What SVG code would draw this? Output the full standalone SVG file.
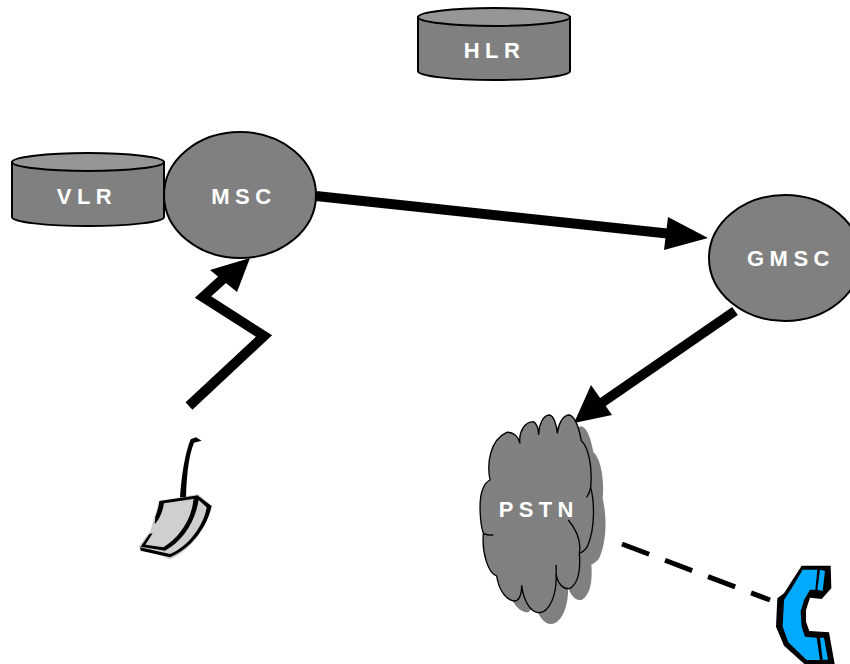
<svg xmlns="http://www.w3.org/2000/svg" width="850" height="664" viewBox="0 0 850 664">
<style>
.shape{fill:#808080;stroke:#000;stroke-width:2}
.top{fill:#969696;stroke:#000;stroke-width:2}
.lbl{font-family:"Liberation Sans",Arial,sans-serif;font-weight:bold;font-size:22px;fill:#fff;text-anchor:middle;letter-spacing:5.5px}
.conn{fill:none;stroke:#000;stroke-width:10;stroke-linejoin:miter}
.head{fill:#000;stroke:none}
</style>
<defs>
<path id="cloud" d="M60 240C50 190 60 120 110 97C130 95 145 110 150 130C145 95 165 65 190 65C200 70 205 85 206 105C205 75 220 45 238 45C252 48 260 75 262 100C265 70 280 45 298 45C318 50 328 90 334 122C355 140 368 200 362 262C372 300 378 380 352 440C345 450 335 458 328 460C332 510 325 550 300 565C280 570 262 550 258 520C262 590 235 640 205 638C180 635 160 600 155 556C155 590 145 605 130 603C100 595 85 560 80 528C55 520 35 460 40 400C30 370 25 300 38 268C42 255 50 245 60 240Z"/>
</defs>
<g id="connectors">
<path class="conn" d="M316 196L672 234"/>
<path class="head" d="M708 238L668 217L664 250Z"/>
<path class="conn" d="M735 311L600 404"/>
<path class="head" d="M574 423L591 385L612 415Z"/>
<path class="conn" d="M189 406L264 336L203 297L224 278"/>
<path class="head" d="M250 258L210 270L237 292Z"/>
<path d="M622 544L770 600" fill="none" stroke="#000" stroke-width="5" stroke-dasharray="29 17"/>
</g>
<g id="hlr">
<path class="shape" d="M418 17V71C418 76 452 80 494 80C536 80 570 76 570 71V17Z"/>
<ellipse class="top" cx="494" cy="17" rx="76" ry="9"/>
<text class="lbl" x="494.500" y="58">HLR</text>
</g>
<g id="vlr">
<path class="shape" d="M12 162V217C12 222 46 226 88 226C130 226 164 222 164 217V162Z"/>
<ellipse class="top" cx="88" cy="162" rx="76" ry="9"/>
<text class="lbl" x="87" y="204">VLR</text>
</g>
<g id="msc">
<ellipse class="shape" cx="240" cy="195" rx="76" ry="63"/>
<text class="lbl" x="244" y="204">MSC</text>
</g>
<g id="gmsc">
<ellipse class="shape" cx="785" cy="258" rx="76" ry="63"/>
<text class="lbl" x="791" y="266">GMSC</text>
</g>
<g id="pstn" transform="translate(470 400) scale(.3333)">
<use href="#cloud" x="36" y="34" fill="#808080"/>
<use href="#cloud" fill="#808080" stroke="#000" stroke-width="4"/>
<path d="M362 262C360 275 355 285 350 292M295 360C320 390 335 420 328 460M40 400C50 405 60 406 70 405M258 520C259 510 259 500 258 495" fill="none" stroke="#000" stroke-width="4"/>
<text x="206" y="351" style="font-family:'Liberation Sans',Arial,sans-serif;font-weight:bold;font-size:66px;fill:#fff;text-anchor:middle;letter-spacing:16px">PSTN</text>
</g>
<g id="mobile" transform="translate(120 420) scale(.3333)">
<path d="M118 243L235 222L275 258C262 320 210 395 150 418L55 380L90 335Z" fill="#cfcfcf"/>
<path d="M212 58L228 52L245 62L222 68C205 110 200 170 198 232L180 232C185 165 195 100 212 58Z" fill="#000"/>
<path d="M118 243L235 226L225 236L132 250C128 275 118 300 104 312L106 290C112 275 116 260 118 243ZM232 226L275 258C262 320 215 385 150 412L62 392L60 382L150 402C205 380 252 315 260 262L236 240C225 310 185 365 135 392L62 380L88 342L98 340L76 374L130 382C175 355 215 300 220 240Z" fill="#000"/>
</g>
<g id="phone" transform="translate(760 555) scale(.3333)">
<path d="M125 32L212 32L214 100L185 132L150 128L138 165L138 200L148 228L207 232L224 327L133 327L72 272L48 215L52 130L72 115Z" fill="#000"/>
<path d="M128 44L172 44L166 104L150 104L132 135L122 170L125 215L135 245L170 248L180 315L140 315L85 262L68 215L72 135L95 100Z" fill="#00aaff"/>
<path d="M180 44L195 48L188 108L172 104ZM180 248L192 248L204 314L188 314Z" fill="#00aaff"/>
</g>
</svg>
